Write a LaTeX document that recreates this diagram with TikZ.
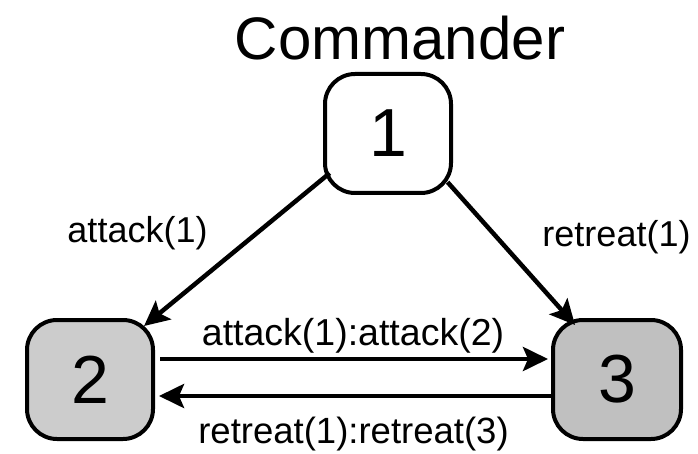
\documentclass[tikz,border=0pt]{standalone}
\usepackage{fontspec}
\setmainfont{Liberation Sans}
\usetikzlibrary{arrows.meta}
\definecolor{fillA}{RGB}{204,204,204}
\definecolor{fillB}{RGB}{192,192,192}
\tikzset{
  proc/.style={draw=black, line width=4pt, rounded corners=30pt, inner sep=0pt,
    minimum width=126pt, minimum height=119pt,
    font=\fontsize{68}{70}\selectfont},
  msg/.style={line width=4.5pt, -{Stealth[length=25pt,width=24pt,inset=5pt]}},
  lbl/.style={anchor=base, inner sep=0pt, font=\fontsize{36}{40}\selectfont},
}
\begin{document}
\begin{tikzpicture}[x=1pt,y=-1pt]
\useasboundingbox (0,0) rectangle (698,454);
\node[proc, fill=white] (n1) at (388,133.5) {1};
\node[proc, fill=fillA] (n2) at (90,379.5) {2};
\node[proc, fill=fillB, minimum width=128pt] (n3) at (617,379.5) {3};
\node[lbl, font=\fontsize{60}{64}\selectfont] (cmd) at (400,60) {Commander};
\node[lbl] (l12) at (137.5,243) {attack(1)};
\node[lbl] (l13) at (616.5,247) {retreat(1)};
\node[lbl, font=\fontsize{37.5}{40}\selectfont] (l23) at (353,345) {attack(1):attack(2)};
\node[lbl, font=\fontsize{36.5}{40}\selectfont] (l32) at (353.5,443) {retreat(1):retreat(3)};
\draw[msg, shorten <=82pt, shorten >=70pt]
  ([xshift=5pt,yshift=12.5pt]n1.center) -- ([yshift=9pt]n2.center);
\draw[msg, shorten <=82pt, shorten >=63pt]
  ([xshift=5pt,yshift=12.5pt]n1.center) -- ([yshift=7.5pt]n3.center);
\draw[msg, shorten <=5pt, shorten >=3pt]
  ([yshift=20.5pt]n2.east) -- ([yshift=20.5pt]n3.west);
\draw[msg, shorten >=4pt]
  ([yshift=-16.5pt]n3.west) -- ([yshift=-16.5pt]n2.east);
\end{tikzpicture}
\end{document}
